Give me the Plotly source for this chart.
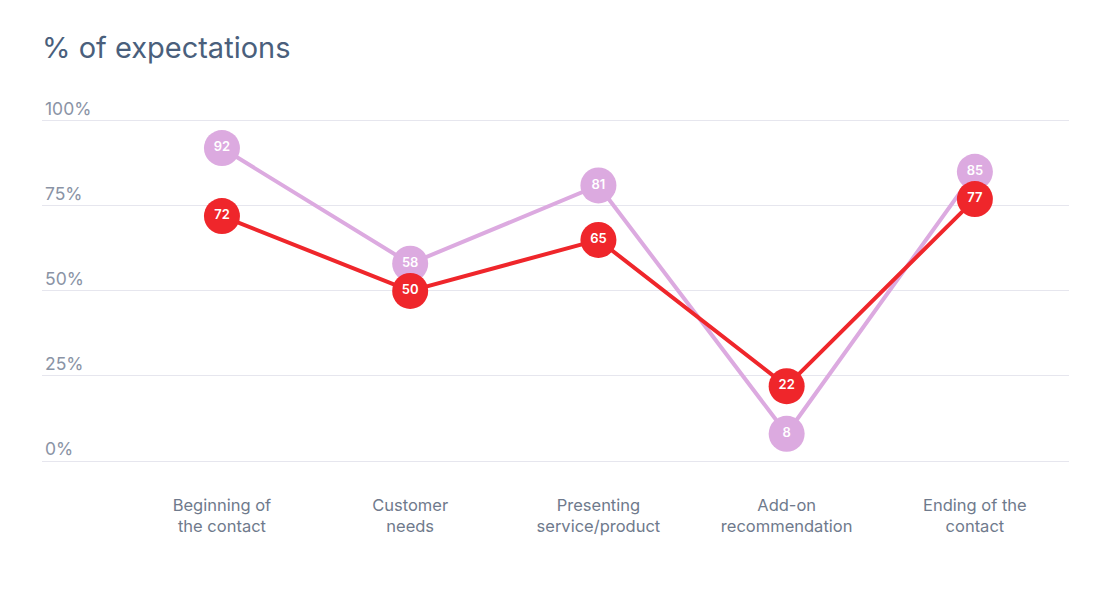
import plotly.graph_objects as go

categories = ["Beginning of<br>the contact", "Customer<br>needs", "Presenting<br>service/product",
              "Add-on<br>recommendation", "Ending of the<br>contact"]
expected = [92, 58, 81, 8, 85]
actual = [72, 50, 65, 22, 77]
y_ticks = [0, 25, 50, 75, 100]
y_tick_labels = ["0%", "25%", "50%", "75%", "100%"]

x_pos = list(range(len(categories)))

fig = go.Figure()

# lighter series first, red one on top
fig.add_trace(go.Scatter(
    x=x_pos, y=expected, mode="lines+markers+text",
    line=dict(color="#dcaae0", width=4),
    marker=dict(size=36, color="#dcaae0"),
    text=[str(v) for v in expected], textposition="middle center",
    textfont=dict(color="white", size=13, family="Inter", weight=600),
    cliponaxis=False, hoverinfo="skip",
))
fig.add_trace(go.Scatter(
    x=x_pos, y=actual, mode="lines+markers+text",
    line=dict(color="#ef262b", width=4),
    marker=dict(size=36, color="#ef262b"),
    text=[str(v) for v in actual], textposition="middle center",
    textfont=dict(color="white", size=13, family="Inter", weight=600),
    cliponaxis=False, hoverinfo="skip",
))

# page body adds 8px offset, margins are compensated for it
fig.update_layout(
    width=1098, height=600,
    margin=dict(l=34, r=37, t=72, b=147, autoexpand=False),
    paper_bgcolor="white", plot_bgcolor="white",
    showlegend=False,
    font=dict(family="Inter, Open Sans, sans-serif"),
    title=dict(text="% of expectations", x=34 / 1098, xref="container", xanchor="left",
               y=1 - 40 / 600, yref="container", yanchor="middle",
               font=dict(size=29, color="#4a5f7c")),
)

fig.update_xaxes(
    range=[-0.956, 4.5],
    tickmode="array", tickvals=x_pos, ticktext=categories,
    showgrid=False, zeroline=False, showline=False,
    ticks="", ticklabelstandoff=32,
    tickfont=dict(size=16.5, color="#6f7a8c"),
)
fig.update_yaxes(
    range=[0, 112],
    tickmode="array", tickvals=y_ticks, ticktext=y_tick_labels,
    showgrid=True, gridcolor="#e6e6ee", gridwidth=1,
    zeroline=True, zerolinecolor="#e6e6ee", zerolinewidth=1,
    showline=False, ticks="",
    ticklabelposition="inside top",
    tickfont=dict(size=17.5, color="#8a93a5"),
)

fig.write_html("out.html")
